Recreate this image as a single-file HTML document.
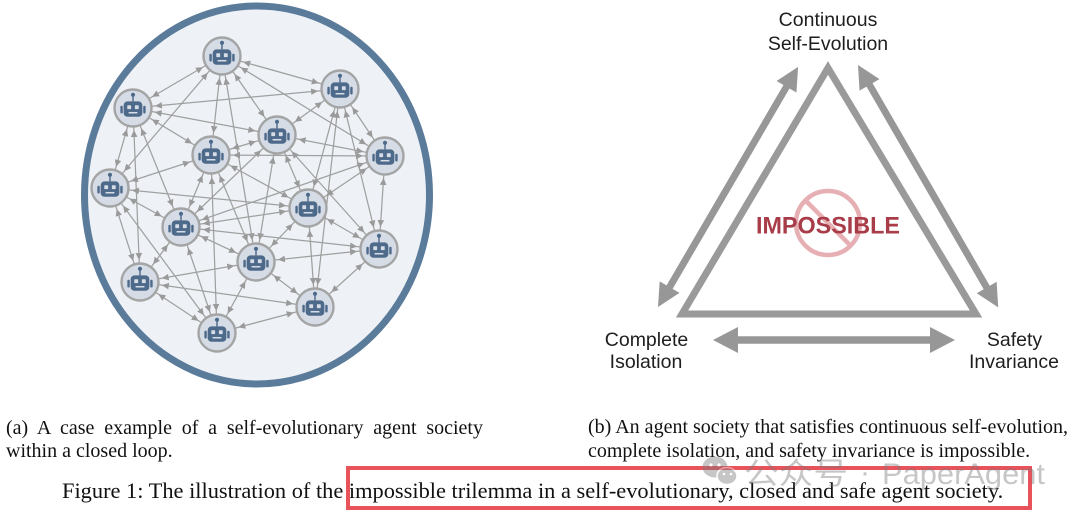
<!DOCTYPE html>
<html>
<head>
<meta charset="utf-8">
<style>
  html,body{margin:0;padding:0;background:#fff;}
  #wrap{position:relative;width:1080px;height:514px;overflow:hidden;background:#fff;}
  svg{position:absolute;left:0;top:0;}
  .cap{position:absolute;font-family:"Liberation Serif",serif;font-size:20px;line-height:23px;color:#111;white-space:nowrap;}
  .j{text-align:justify;text-align-last:justify;}
  .fig{position:absolute;left:62px;top:478.4px;font-family:"Liberation Serif",serif;font-size:22.4px;line-height:26px;color:#111;white-space:nowrap;}
</style>
</head>
<body>
<div id="wrap">
<svg width="1080" height="514" viewBox="0 0 1080 514" xmlns="http://www.w3.org/2000/svg">
  <defs>
    <marker id="ah" viewBox="-40 -10 40 20" markerWidth="40" markerHeight="20" refX="0" refY="0" markerUnits="userSpaceOnUse" orient="auto-start-reverse" overflow="visible">
      <path d="M-22,0 L-29,-3.3 L-29,3.3 Z" fill="#9a9a9a"/>
    </marker>
    <g id="rb" transform="scale(1.1)">
      <line x1="0" y1="-6" x2="0" y2="-11" stroke="#4e6a8b" stroke-width="1.3"/>
      <circle cx="0" cy="-12" r="1.9" fill="#4e6a8b"/>
      <rect x="-8.5" y="-6" width="17" height="14" rx="3.5" fill="#4e6a8b"/>
      <rect x="-11.5" y="-2" width="2.2" height="7" rx="1" fill="#4e6a8b"/>
      <rect x="9.3" y="-2" width="2.2" height="7" rx="1" fill="#4e6a8b"/>
      <rect x="-5.2" y="-2.5" width="3.5" height="3.5" rx="0.6" fill="#d6dde6"/>
      <rect x="1.7" y="-2.5" width="3.5" height="3.5" rx="0.6" fill="#d6dde6"/>
      <rect x="-4" y="3.6" width="8" height="1.4" fill="#d6dde6"/>
    </g>
    <g id="nd">
      <circle cx="0" cy="0" r="18.5" fill="#d5dce5" stroke="#a4a4a4" stroke-width="2.4"/>
      <use href="#rb"/>
    </g>
  </defs>

  <!-- Left panel: big circle -->
  <ellipse cx="257" cy="195" rx="172.5" ry="189" fill="#eef2f6" stroke="#5b7b9b" stroke-width="7"/>

  <!-- edges -->
  <g stroke="#a0a0a0" stroke-width="1.25" fill="none" marker-start="url(#ah)" marker-end="url(#ah)">
    <line x1="222" y1="56" x2="340" y2="89"/>
    <line x1="222" y1="56" x2="133" y2="108"/>
    <line x1="222" y1="56" x2="277" y2="135"/>
    <line x1="222" y1="56" x2="211" y2="155"/>
    <line x1="222" y1="56" x2="385" y2="156"/>
    <line x1="222" y1="56" x2="110" y2="188"/>
    <line x1="222" y1="56" x2="256" y2="262"/>
    <line x1="340" y1="89" x2="133" y2="108"/>
    <line x1="340" y1="89" x2="277" y2="135"/>
    <line x1="340" y1="89" x2="385" y2="156"/>
    <line x1="340" y1="89" x2="308" y2="208"/>
    <line x1="340" y1="89" x2="379" y2="249"/>
    <line x1="340" y1="89" x2="315" y2="307"/>
    <line x1="133" y1="108" x2="277" y2="135"/>
    <line x1="133" y1="108" x2="211" y2="155"/>
    <line x1="133" y1="108" x2="110" y2="188"/>
    <line x1="133" y1="108" x2="181" y2="227"/>
    <line x1="133" y1="108" x2="140" y2="282"/>
    <line x1="277" y1="135" x2="211" y2="155"/>
    <line x1="277" y1="135" x2="385" y2="156"/>
    <line x1="277" y1="135" x2="308" y2="208"/>
    <line x1="277" y1="135" x2="181" y2="227"/>
    <line x1="277" y1="135" x2="379" y2="249"/>
    <line x1="277" y1="135" x2="256" y2="262"/>
    <line x1="211" y1="155" x2="385" y2="156"/>
    <line x1="211" y1="155" x2="110" y2="188"/>
    <line x1="211" y1="155" x2="308" y2="208"/>
    <line x1="211" y1="155" x2="181" y2="227"/>
    <line x1="211" y1="155" x2="256" y2="262"/>
    <line x1="211" y1="155" x2="217" y2="333"/>
    <line x1="385" y1="156" x2="181" y2="227"/>
    <line x1="385" y1="156" x2="379" y2="249"/>
    <line x1="385" y1="156" x2="308" y2="208"/>
    <line x1="110" y1="188" x2="308" y2="208"/>
    <line x1="110" y1="188" x2="181" y2="227"/>
    <line x1="110" y1="188" x2="140" y2="282"/>
    <line x1="110" y1="188" x2="217" y2="333"/>
    <line x1="308" y1="208" x2="181" y2="227"/>
    <line x1="308" y1="208" x2="379" y2="249"/>
    <line x1="308" y1="208" x2="256" y2="262"/>
    <line x1="308" y1="208" x2="315" y2="307"/>
    <line x1="181" y1="227" x2="379" y2="249"/>
    <line x1="181" y1="227" x2="256" y2="262"/>
    <line x1="181" y1="227" x2="140" y2="282"/>
    <line x1="181" y1="227" x2="217" y2="333"/>
    <line x1="379" y1="249" x2="256" y2="262"/>
    <line x1="379" y1="249" x2="315" y2="307"/>
    <line x1="256" y1="262" x2="140" y2="282"/>
    <line x1="256" y1="262" x2="315" y2="307"/>
    <line x1="256" y1="262" x2="217" y2="333"/>
    <line x1="140" y1="282" x2="315" y2="307"/>
    <line x1="140" y1="282" x2="217" y2="333"/>
    <line x1="315" y1="307" x2="217" y2="333"/>
  </g>

  <!-- nodes -->
  <use href="#nd" x="222" y="56"/>
  <use href="#nd" x="340" y="89"/>
  <use href="#nd" x="133" y="108"/>
  <use href="#nd" x="277" y="135"/>
  <use href="#nd" x="211" y="155"/>
  <use href="#nd" x="385" y="156"/>
  <use href="#nd" x="110" y="188"/>
  <use href="#nd" x="308" y="208"/>
  <use href="#nd" x="181" y="227"/>
  <use href="#nd" x="379" y="249"/>
  <use href="#nd" x="256" y="262"/>
  <use href="#nd" x="140" y="282"/>
  <use href="#nd" x="315" y="307"/>
  <use href="#nd" x="217" y="333"/>

  <!-- Right panel: trilemma -->
  <polygon points="828,68 976,314 682,314" fill="none" stroke="#9a9a9a" stroke-width="7" stroke-linejoin="miter"/>

  <g fill="#979797">
    <polygon transform="translate(658,307) rotate(-59.74)" points="0,0 23,-11.5 23,-3.5 255,-3.5 255,-11.5 278,0 255,11.5 255,3.5 23,3.5 23,11.5"/>
    <polygon transform="translate(858,65) rotate(59.95)" points="0,0 23,-11.5 23,-3.5 257,-3.5 257,-11.5 280,0 257,11.5 257,3.5 23,3.5 23,11.5"/>
    <polygon transform="translate(713,340)" points="0,0 25,-13 25,-3.8 217,-3.8 217,-13 242,0 217,13 217,3.8 25,3.8 25,13"/>
  </g>

  <!-- prohibition sign -->
  <g opacity="0.85">
    <circle cx="828" cy="223" r="32" fill="none" stroke="#e2a2a6" stroke-width="4.5"/>
    <line x1="805.4" y1="200.4" x2="850.6" y2="245.6" stroke="#e2a2a6" stroke-width="4.5"/>
  </g>
  <text x="828" y="233.5" text-anchor="middle" font-family="Liberation Sans, sans-serif" font-weight="bold" font-size="24" fill="#a83d49" textLength="144" lengthAdjust="spacingAndGlyphs">IMPOSSIBLE</text>

  <g font-family="Liberation Sans, sans-serif" font-size="19.5" fill="#1e1e1e" text-anchor="middle">
    <text x="828" y="26">Continuous</text>
    <text x="828" y="50">Self-Evolution</text>
    <text x="646.5" y="346">Complete</text>
    <text x="646" y="368">Isolation</text>
    <text x="1014.5" y="346">Safety</text>
    <text x="1014" y="368">Invariance</text>
  </g>
</svg>

<div class="cap j" style="left:6px;top:416.75px;width:477px;">(a) A case example of a self-evolutionary agent society</div>
<div class="cap" style="left:6px;top:439.75px;">within a closed loop.</div>
<div class="cap j" style="left:588px;top:415.75px;width:480px;">(b) An agent society that satisfies continuous self-evolution,</div>
<div class="cap" style="left:588px;top:439.75px;">complete isolation, and safety invariance is impossible.</div>

<div class="fig">Figure 1: The illustration of the impossible trilemma in a self-evolutionary, closed and safe agent society.</div>

<svg width="1080" height="514" viewBox="0 0 1080 514" xmlns="http://www.w3.org/2000/svg" style="pointer-events:none">
  <rect x="348" y="468" width="682" height="40" fill="none" stroke="#e8525a" stroke-width="4"/>
  <g opacity="0.42">
    <ellipse cx="715" cy="467" rx="12.5" ry="10.5" fill="#7a7a7a"/>
    <ellipse cx="727" cy="476" rx="10" ry="8.5" fill="#7a7a7a" stroke="#fff" stroke-width="1.5"/>
    <circle cx="711" cy="465" r="1.6" fill="#fff"/>
    <circle cx="719" cy="465" r="1.6" fill="#fff"/>
    <circle cx="724" cy="474" r="1.3" fill="#fff"/>
    <circle cx="731" cy="474" r="1.3" fill="#fff"/>
    <text x="744" y="484" font-family="Liberation Sans, Noto Sans CJK SC, sans-serif" font-size="30" fill="#7a7a7a" textLength="104" lengthAdjust="spacingAndGlyphs">公众号</text>
    <text x="860" y="482" font-family="Liberation Sans, sans-serif" font-size="30" fill="#7a7a7a">·</text>
    <text x="882" y="484" font-family="Liberation Sans, sans-serif" font-size="30" fill="#7a7a7a" textLength="163" lengthAdjust="spacingAndGlyphs">PaperAgent</text>
  </g>
</svg>
</div>
</body>
</html>
